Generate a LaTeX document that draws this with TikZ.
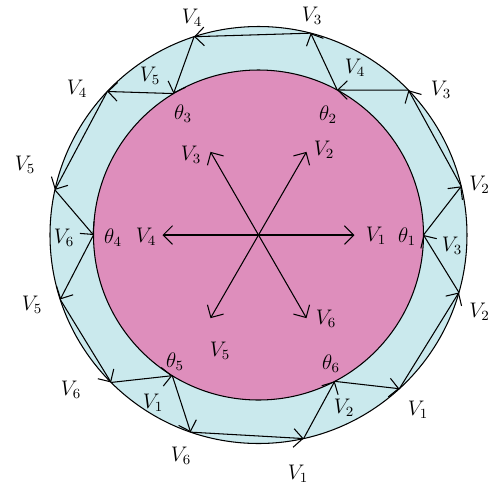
\documentclass[tikz,border=0pt]{standalone}
\usepackage{amsmath}
\usetikzlibrary{arrows.meta}
\definecolor{ringcyan}{RGB}{202,233,237}
\definecolor{discpink}{RGB}{222,142,188}

\begin{document}
\begin{tikzpicture}[x=0.02cm,y=0.02cm,
  vec/.style={-{Straight Barb[angle=90:7.5pt]},line width=0.6pt},
  rim/.style={line width=0.6pt},
  lbl/.style={font=\fontsize{11.5}{14}\selectfont,inner sep=0pt}]
  \useasboundingbox (-258.5,-250) rectangle (232.5,235);
  \fill[ringcyan] (0,0) circle (208.5);
  \draw[rim] (0,0) circle (208.5);
  \fill[discpink] (0,0) circle (165);
  \draw[rim] (0,0) circle (165);
  \coordinate (O) at (0,0);
  \coordinate (T1) at (0:165);
  \coordinate (T2) at (61.5:165);
  \coordinate (T3) at (121:165);
  \coordinate (T4) at (180:165);
  \coordinate (T5) at (238.5:165);
  \coordinate (T6) at (297.5:165);
  \coordinate (R1) at (13.5:208.5);
  \coordinate (R2) at (44:208.5);
  \coordinate (R3) at (75.5:208.5);
  \coordinate (R4) at (108:208.5);
  \coordinate (R5) at (136.5:208.5);
  \coordinate (R6) at (167.5:208.5);
  \coordinate (R7) at (198:208.5);
  \coordinate (R8) at (225:208.5);
  \coordinate (R9) at (251:208.5);
  \coordinate (R10) at (282.5:208.5);
  \coordinate (R11) at (312.5:208.5);
  \coordinate (R12) at (344:208.5);
  \draw[vec] (T1) -- (R1);
  \draw[vec] (R1) -- (R2);
  \draw[vec] (R2) -- (T2);
  \draw[vec] (T2) -- (R3);
  \draw[vec] (R3) -- (R4);
  \draw[vec] (R4) -- (T3);
  \draw[vec] (T3) -- (R5);
  \draw[vec] (R5) -- (R6);
  \draw[vec] (R6) -- (T4);
  \draw[vec] (T4) -- (R7);
  \draw[vec] (R7) -- (R8);
  \draw[vec] (R8) -- (T5);
  \draw[vec] (T5) -- (R9);
  \draw[vec] (R9) -- (R10);
  \draw[vec] (R10) -- (T6);
  \draw[vec] (T6) -- (R11);
  \draw[vec] (R11) -- (R12);
  \draw[vec] (R12) -- (T1);
  \coordinate (S1) at (0:96);
  \coordinate (S2) at (60:96);
  \coordinate (S3) at (120:96);
  \coordinate (S4) at (180:96);
  \coordinate (S5) at (240:96);
  \coordinate (S6) at (300:96);
  \draw[vec] (O) -- (S1);
  \draw[vec] (O) -- (S2);
  \draw[vec] (O) -- (S3);
  \draw[vec] (O) -- (S4);
  \draw[vec] (O) -- (S5);
  \draw[vec] (O) -- (S6);
  \node[lbl] (s1) at (117.5,-1) {$V_1$};
  \node[lbl] (s2) at (65.5,85) {$V_2$};
  \node[lbl] (s3) at (-67.5,80) {$V_3$};
  \node[lbl] (s4) at (-112.5,-2) {$V_4$};
  \node[lbl] (s5) at (-38.5,-116) {$V_5$};
  \node[lbl] (s6) at (67.5,-84) {$V_6$};
  \node[lbl] (th1) at (148.5,-2) {$\theta_1$};
  \node[lbl] (th2) at (69.5,120) {$\theta_2$};
  \node[lbl] (th3) at (-75.5,121) {$\theta_3$};
  \node[lbl] (th4) at (-145.5,-3) {$\theta_4$};
  \node[lbl] (th5) at (-83.5,-127) {$\theta_5$};
  \node[lbl] (th6) at (72.5,-129) {$\theta_6$};
  \node[lbl] (m1) at (193.5,-11) {$V_3$};
  \node[lbl] (m2) at (96.5,167) {$V_4$};
  \node[lbl] (m3) at (-108.5,159) {$V_5$};
  \node[lbl] (m4) at (-194.5,-3) {$V_6$};
  \node[lbl] (m5) at (-105.5,-168) {$V_1$};
  \node[lbl] (m6) at (85.5,-173) {$V_2$};
  \node[lbl] (r1) at (221,50) {$V_2$};
  \node[lbl] (r2) at (182.5,145) {$V_3$};
  \node[lbl] (r3) at (53.5,219) {$V_3$};
  \node[lbl] (r4) at (-66.5,217) {$V_4$};
  \node[lbl] (r5) at (-181.5,146) {$V_4$};
  \node[lbl] (r6) at (-233.5,70) {$V_5$};
  \node[lbl] (r7) at (-226.5,-70) {$V_5$};
  \node[lbl] (r8) at (-187.5,-155) {$V_6$};
  \node[lbl] (r9) at (-77.5,-221) {$V_6$};
  \node[lbl] (r10) at (39.5,-239) {$V_1$};
  \node[lbl] (r11) at (159.5,-175) {$V_1$};
  \node[lbl] (r12) at (221,-77) {$V_2$};
\end{tikzpicture}
\end{document}
